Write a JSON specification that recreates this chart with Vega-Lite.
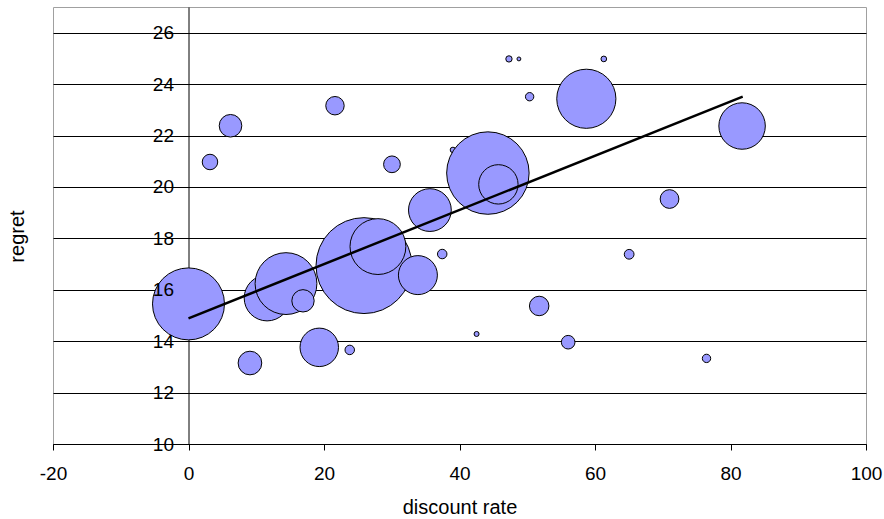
{
  "$schema": "https://vega.github.io/schema/vega-lite/v6.json",
  "width": 813,
  "height": 437,
  "autosize": {"type": "none"},
  "padding": {"left": 53, "top": 7, "right": 18, "bottom": 75},
  "background": "white",
  "config": {
    "view": {"stroke": "#a0a0a0", "strokeWidth": 1},
    "font": "Liberation Sans"
  },
  "resolve": {"axis": {"y": "independent"}},
  "layer": [
    {
      "data": {
        "values": [
          {"rate": 0, "regret": 15.45, "n": 51.8},
          {"rate": 9.07, "regret": 13.15, "n": 5.6},
          {"rate": 3.17, "regret": 20.97, "n": 2.4},
          {"rate": 6.2, "regret": 22.38, "n": 5.1},
          {"rate": 21.62, "regret": 23.16, "n": 3.4},
          {"rate": 30.03, "regret": 20.88, "n": 2.8},
          {"rate": 47.3, "regret": 24.98, "n": 0.4},
          {"rate": 48.77, "regret": 24.98, "n": 0.15},
          {"rate": 61.3, "regret": 24.98, "n": 0.32},
          {"rate": 50.35, "regret": 23.51, "n": 0.7},
          {"rate": 58.72, "regret": 23.43, "n": 35.0},
          {"rate": 81.71, "regret": 22.37, "n": 21.6},
          {"rate": 71.0, "regret": 19.53, "n": 3.5},
          {"rate": 65.04, "regret": 17.38, "n": 0.95},
          {"rate": 76.46, "regret": 13.33, "n": 0.7},
          {"rate": 56.04, "regret": 13.96, "n": 1.85},
          {"rate": 51.76, "regret": 15.37, "n": 3.8},
          {"rate": 42.52, "regret": 14.28, "n": 0.25},
          {"rate": 39.03, "regret": 21.44, "n": 0.3},
          {"rate": 44.19, "regret": 20.54, "n": 68.0},
          {"rate": 45.74, "regret": 20.1, "n": 15.5},
          {"rate": 35.63, "regret": 19.1, "n": 18.3},
          {"rate": 37.45, "regret": 17.39, "n": 0.9},
          {"rate": 25.9, "regret": 16.94, "n": 92.0},
          {"rate": 27.96, "regret": 17.68, "n": 31.2},
          {"rate": 33.86, "regret": 16.57, "n": 15.2},
          {"rate": 11.6, "regret": 15.68, "n": 21.0},
          {"rate": 14.39, "regret": 16.24, "n": 38.2},
          {"rate": 16.9, "regret": 15.57, "n": 5.0},
          {"rate": 19.3, "regret": 13.76, "n": 14.8},
          {"rate": 23.8, "regret": 13.66, "n": 0.9}
        ]
      },
      "mark": {"type": "circle", "fill": "#9999ff", "stroke": "#000000", "strokeWidth": 1, "opacity": 1, "fillOpacity": 1},
      "encoding": {
        "x": {
          "field": "rate", "type": "quantitative",
          "scale": {"domain": [-20, 100], "nice": false, "zero": false},
          "axis": {
            "title": "discount rate",
            "values": [-20, 0, 20, 40, 60, 80, 100],
            "labelExpr": "toString(datum.value)",
            "grid": false,
            "domainColor": "#000000",
            "tickColor": "#000000",
            "tickSize": 6,
            "labelFontSize": 19,
            "labelColor": "#000000",
            "labelPadding": 14,
            "labelFlush": false,
            "labelOverlap": false,
            "titleFontSize": 20,
            "titleFontWeight": "normal",
            "titleColor": "#000000",
            "titleBaseline": "alphabetic",
            "titleY": 69
          }
        },
        "y": {
          "field": "regret", "type": "quantitative",
          "scale": {"domain": [10, 27], "nice": false, "zero": false},
          "axis": {
            "orient": "left",
            "offset": -135.5,
            "title": "regret",
            "values": [10, 12, 14, 16, 18, 20, 22, 24, 26],
            "grid": true,
            "gridColor": "#000000",
            "gridWidth": 1,
            "gridOpacity": 1,
            "domainColor": "#000000",
            "tickColor": "#000000",
            "tickSize": 6,
            "labels": false,
            "zindex": 0,
            "titleFontSize": 20,
            "titleFontWeight": "normal",
            "titleColor": "#000000",
            "titleAngle": -90,
            "titleAlign": "center",
            "titleBaseline": "middle",
            "titleX": -171,
            "titleY": 229
          }
        },
        "size": {
          "field": "n", "type": "quantitative",
          "scale": {"type": "linear", "domain": [0, 100], "range": [0, 10000]},
          "legend": null
        }
      }
    },
    {
      "data": {
        "values": [
          {"rate": 0, "regret": 14.89},
          {"rate": 81.8, "regret": 23.51}
        ]
      },
      "mark": {"type": "line", "color": "#000000", "strokeWidth": 2.5},
      "encoding": {
        "x": {"field": "rate", "type": "quantitative"},
        "y": {
          "field": "regret", "type": "quantitative",
          "axis": {
            "orient": "left",
            "offset": -135.5,
            "title": null,
            "values": [10, 12, 14, 16, 18, 20, 22, 24, 26],
            "grid": false,
            "domain": false,
            "ticks": true,
            "tickOpacity": 0,
            "tickSize": 6,
            "labelPadding": 9,
            "labelFontSize": 19,
            "labelColor": "#000000",
            "labelFlush": false,
            "labelOverlap": false,
            "zindex": 1
          }
        }
      }
    }
  ]
}
